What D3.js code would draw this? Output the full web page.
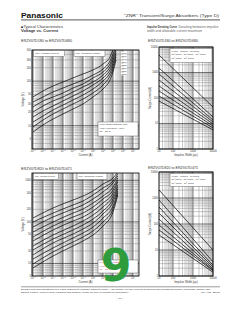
<!DOCTYPE html>
<html>
<head>
<meta charset="utf-8">
<script src="https://cdnjs.cloudflare.com/ajax/libs/d3/7.8.5/d3.min.js"></script>
<style>
body { margin: 0; background: #fff; }
svg { display: block; font-family: "Liberation Sans", Arial, sans-serif; }
</style>
</head>
<body>
<script>
// ---- values ----
// V-I curves, upper panel (ERZV07D180 .. ERZV07D680)
var viCurrentsTop = [1e-6, 1e-5, 1e-4, 1e-3, 1e-2, 0.1, 1, 10, 50, 100, 200];
var viTypesTop = ["180", "220", "270", "330", "390", "470", "560", "680"];
var viVoltsTop = [
  [7.2, 10.4, 14.1, 18.3, 23.7, 30.7, 44.1, 66.6, 106, 160, 298],
  [9.35, 13.4, 18.3, 23.7, 30.7, 39.7, 54.2, 81.9, 130, 187, 348],
  [12.1, 16.5, 22.5, 29.1, 37.7, 48.9, 66.6, 101, 152, 219, 386],
  [15.7, 21.4, 27.7, 35.8, 46.4, 60.1, 81.9, 118, 178, 255, 428],
  [20.3, 27.7, 35.8, 44.1, 57.1, 73.9, 95.6, 137, 208, 298, 475],
  [26.3, 35.8, 44.1, 54.2, 70.1, 86.3, 118, 160, 242, 348, 526],
  [34.0, 44.1, 57.1, 70.1, 86.3, 106, 137, 187, 283, 407, 584],
  [44.1, 60.1, 77.8, 95.6, 118, 145, 178, 242, 348, 500, 647]
];
// V-I curves, lower panel (ERZV07D820 .. ERZV07D471)
var viCurrentsBot = [1e-6, 1e-4, 1e-2, 0.1, 1, 10, 100, 300];
var viTypesBot = ["820", "101", "121", "151", "181", "201", "221", "241", "271", "331", "391", "471"];
var viVoltsBot = [
  [7.8, 15.1, 26.3, 34.7, 48.4, 79.6, 173, 443],
  [9.7, 18.9, 32.8, 43.3, 60.4, 99.4, 204, 495],
  [12.8, 23.6, 41.0, 54.0, 75.3, 124, 241, 553],
  [16.0, 31.1, 51.1, 67.4, 94.0, 155, 301, 617],
  [21.1, 38.8, 63.8, 84.1, 117, 183, 355, 690],
  [26.3, 48.4, 79.6, 105, 146, 228, 419, 770],
  [34.7, 63.8, 105, 131, 183, 284, 495, 909],
  [43.3, 79.6, 131, 163, 228, 355, 584, 1016],
  [57.1, 99.4, 163, 204, 284, 419, 690, 1135],
  [75.3, 131, 204, 255, 355, 523, 861, 1268],
  [99.4, 163, 255, 318, 443, 652, 961, 1416],
  [124, 216, 336, 419, 553, 814, 1135, 1582]
];
var viXExp = [-6, -5, -4, -3, -2, -1, 0, 1, 2, 3, 4];
var viYTicksTop = [5, 10, 20, 30, 50, 100, 200, 300, 500];
var viYTicksBot = [5, 10, 20, 50, 100, 200, 500, 1000];

// impulse derating lines: allowable surge current at 20 us and 10000 us
var surgeWidths = [20, 10000];
var surgeTimes = ["1", "2", "10", "10\u00b2", "10\u00b3", "10\u2074", "10\u2075", "10\u2076"];
var surgeAmpsTop = [[4860, 44], [1500, 18], [873, 13.7], [508, 11.5], [296, 9.6], [188, 8.0], [120, 6.7], [76, 5.6]];
var surgeAmpsBot = [[2040, 10], [838, 3.5], [450, 2.6], [265, 2.2], [155, 1.9], [91, 1.7], [59, 1.6], [38, 1.4]];
var surgeXTicks = [20, 100, 1000, 10000];
var surgeYTicks = [1, 10, 100, 1000, 10000];

var W = 240, H = 310;
var ink = "#333";
var svg = d3.select("body").append("svg").attr("width", W).attr("height", H);

function logGrid(dom) {
  var out = [];
  var lo = Math.floor(Math.log10(dom[0])), hi = Math.ceil(Math.log10(dom[1]));
  for (var e = lo; e <= hi; e++) {
    for (var k = 1; k <= 9; k++) {
      var v = k * Math.pow(10, e);
      if (v >= dom[0] * 0.999 && v <= dom[1] * 1.001) out.push({ v: v, major: k === 1 });
    }
  }
  return out;
}

function txt(x, y, s, size, opts) {
  opts = opts || {};
  var t = svg.append("text").attr("x", x).attr("y", y).attr("font-size", size)
    .attr("fill", opts.fill || ink).text(s);
  if (opts.anchor) t.attr("text-anchor", opts.anchor);
  if (opts.bold) t.attr("font-weight", "bold");
  if (opts.len) t.attr("textLength", opts.len).attr("lengthAdjust", "spacingAndGlyphs");
  return t;
}

function panel(p) {
  var x = d3.scaleLog().domain(p.xDom).range([p.x0, p.x1]);
  var y = d3.scaleLog().domain(p.yDom).range([p.y1, p.y0]);
  var g = svg.append("g");
  svg.append("clipPath").attr("id", "clip" + p.id).append("rect")
    .attr("x", p.x0).attr("y", p.y0).attr("width", p.x1 - p.x0).attr("height", p.y1 - p.y0);

  g.selectAll(".gx").data(logGrid(p.xDom)).join("line")
    .attr("x1", function (d) { return x(d.v); }).attr("x2", function (d) { return x(d.v); })
    .attr("y1", p.y0).attr("y2", p.y1)
    .attr("stroke", function (d) { return d.major ? "#222" : "#777"; })
    .attr("stroke-width", function (d) { return d.major ? 0.6 : 0.4; });
  g.selectAll(".gy").data(logGrid(p.yDom)).join("line")
    .attr("y1", function (d) { return y(d.v); }).attr("y2", function (d) { return y(d.v); })
    .attr("x1", p.x0).attr("x2", p.x1)
    .attr("stroke", function (d) { return d.major ? "#222" : "#777"; })
    .attr("stroke-width", function (d) { return d.major ? 0.6 : 0.4; });

  var line = d3.line().x(function (d) { return x(d[0]); }).y(function (d) { return y(d[1]); })
    .curve(p.smooth ? d3.curveMonotoneX : d3.curveLinear);
  g.append("g").attr("clip-path", "url(#clip" + p.id + ")")
    .selectAll("path").data(p.series).join("path")
    .attr("d", function (s) { return line(p.xs.map(function (xv, i) { return [xv, s[i]]; })); })
    .attr("fill", "none").attr("stroke", "#000").attr("stroke-width", 0.7);

  g.append("rect").attr("x", p.x0).attr("y", p.y0).attr("width", p.x1 - p.x0).attr("height", p.y1 - p.y0)
    .attr("fill", "none").attr("stroke", "#000").attr("stroke-width", 0.8);

  // y tick labels
  p.yTicks.forEach(function (v) {
    txt(p.x0 - 1, y(v) + 0.9, String(v), 2.6, { anchor: "end" });
  });
  // x tick labels
  p.xTicks.forEach(function (t) {
    var t1 = svg.append("text").attr("x", x(t.v)).attr("y", p.y1 + 3.4).attr("font-size", 2.6)
      .attr("fill", ink).attr("text-anchor", "middle");
    if (t.exp !== undefined) {
      t1.append("tspan").text("10");
      t1.append("tspan").attr("dy", -1).attr("font-size", 1.8).text(t.exp);
    } else {
      t1.text(String(t.v));
    }
  });
  // axis titles
  txt((p.x0 + p.x1) / 2, p.y1 + 7, p.xTitle, 2.8, { anchor: "middle" });
  svg.append("text").attr("transform", "translate(" + (p.x0 - 8) + "," + ((p.y0 + p.y1) / 2) + ") rotate(-90)")
    .attr("font-size", 2.8).attr("fill", ink).attr("text-anchor", "middle").text(p.yTitle);
  return { x: x, y: y };
}

function box(x, y, w, h, lines, size, fill) {
  svg.append("rect").attr("x", x).attr("y", y).attr("width", w).attr("height", h)
    .attr("fill", "#fff").attr("stroke", "#444").attr("stroke-width", 0.4);
  lines.forEach(function (l, i) {
    txt(x + 1.5, y + 3.2 + i * 3.6, l, size, { fill: fill || ink });
  });
}

// ---- page header ----
txt(21, 17.5, "Panasonic", 7.6, { bold: true, fill: "#111", len: 42 });
txt(219, 16.6, "\u201cZNR\u201d Transient/Surge Absorbers (Type D)", 4.4, { anchor: "end", len: 95 });
svg.append("line").attr("x1", 21).attr("x2", 220).attr("y1", 19.8).attr("y2", 19.8)
  .attr("stroke", "#777").attr("stroke-width", 1.3);
txt(21, 28.2, "\u25a0Typical Characteristics", 3.2, { len: 42 });
txt(21, 31.8, "Voltage vs. Current", 3.2, { bold: true, len: 37 });
txt(147, 28.2, "Impulse Derating Curve", 3.2, { bold: true, len: 30 });
txt(178.5, 28.2, "Derating between impulse", 3.0, { fill: "#666", len: 40 });
txt(147, 31.6, "width and allowable current maximum", 3.0, { fill: "#666", len: 55 });

// ---- panel titles ----
txt(21, 42, "ERZV07D180 to ERZV07D680", 3.2, { len: 51 });
txt(148, 42, "ERZV07D180 to ERZV07D680", 3.2, { len: 50 });
txt(21, 169.5, "ERZV07D820 to ERZV07D471", 3.2, { len: 51 });
txt(148, 168.5, "ERZV07D820 to ERZV07D471", 3.2, { len: 50 });

var viXTicks = viXExp.map(function (e) {
  return { v: Math.pow(10, e), exp: e < 0 ? "\u2212" + (-e) : String(e) };
});
var sXTicks = surgeXTicks.map(function (v) { return { v: v }; });

// upper-left: V-I
panel({ id: "a", x0: 32, x1: 139, y0: 50, y1: 149, xDom: [Math.pow(10, -6.1), Math.pow(10, 4.6)], yDom: [3, 500],
  xs: viCurrentsTop, series: viVoltsTop, smooth: true, yTicks: viYTicksTop, xTicks: viXTicks,
  xTitle: "Current (A)", yTitle: "Voltage (V)" });
box(33.5, 50.5, 31, 6, ["Max. Leakage Current"], 2.4);
box(74, 50.5, 31, 6, ["Max. Clamping Voltage"], 2.4);
viTypesTop.slice().reverse().forEach(function (t, i) {
  svg.append("rect").attr("x", 121).attr("y", 51.5 + i * 3).attr("width", 6).attr("height", 2.8).attr("fill", "#fff");
  txt(121.5, 53.8 + i * 3, "D" + t, 2.2);
});
box(98, 122, 40, 14, ["Type: ERZV07D180\u2013680", "V1mA tolerance \u00b110%", "Ta = 25\u00b0C"], 2.5);

// upper-right: impulse derating
panel({ id: "b", x0: 159, x1: 213, y0: 47, y1: 149, xDom: [20, 10000], yDom: [1, 10000],
  xs: surgeWidths, series: surgeAmpsTop, smooth: false, yTicks: surgeYTicks, xTicks: sXTicks,
  xTitle: "Impulse Width (\u03bcs)", yTitle: "Surge Current (A)" });
box(170, 48.5, 42, 14, ["1 time \u00b7 2 times \u00b7 10 times", "10\u00b2 times \u00b7 10\u00b3 times \u00b7 10\u2074 times", "10\u2075 times \u00b7 10\u2076 times"], 2.4);

// lower-left: V-I
panel({ id: "c", x0: 32, x1: 139, y0: 173, y1: 276, xDom: [Math.pow(10, -6.1), Math.pow(10, 4.6)], yDom: [5, 1500],
  xs: viCurrentsBot, series: viVoltsBot, smooth: true, yTicks: viYTicksBot, xTicks: viXTicks,
  xTitle: "Current (A)", yTitle: "Voltage (V)" });
box(33.5, 173.5, 25, 6, ["Max. Leakage Current"], 2.0);
box(77, 173.5, 30, 6, ["Max. Clamping Voltage"], 2.4);
box(98, 260, 40, 13, ["Type: ERZV07D820\u2013471", "V1mA tolerance \u00b110%", "Ta = 25\u00b0C"], 2.5, "#c04a9a");

// lower-right: impulse derating
panel({ id: "d", x0: 159, x1: 213, y0: 172, y1: 276, xDom: [20, 10000], yDom: [1, 10000],
  xs: surgeWidths, series: surgeAmpsBot, smooth: false, yTicks: surgeYTicks, xTicks: sXTicks,
  xTitle: "Impulse Width (\u03bcs)", yTitle: "Surge Current (A)" });
box(170, 173.5, 42, 13, ["1 time \u00b7 2 times \u00b7 10 times", "10\u00b2 times \u00b7 10\u00b3 times \u00b7 10\u2074 times", "10\u2075 times \u00b7 10\u2076 times"], 2.4);

// ---- footer ----
svg.append("line").attr("x1", 21).attr("x2", 220).attr("y1", 286.8).attr("y2", 286.8)
  .attr("stroke", "#555").attr("stroke-width", 0.6);
txt(21, 290, "Design and specifications are each subject to change without notice. Ask factory for the current technical specifications before purchase and/or use.", 1.9, { len: 190 });
txt(21, 292.6, "Should a safety concern arise regarding this product, please be sure to contact us immediately.", 1.9, { len: 108 });
txt(220, 292.6, "01  Aug. 2010", 1.9, { anchor: "end", len: 19 });
txt(120, 299, "\u2013 10 \u2013", 2.4, { anchor: "middle" });

// site watermark digit
txt(116, 281, "9", 44, { anchor: "middle", bold: true, fill: "#2e9b3c" }).attr("font-family", "DejaVu Sans");
</script>
</body>
</html>
